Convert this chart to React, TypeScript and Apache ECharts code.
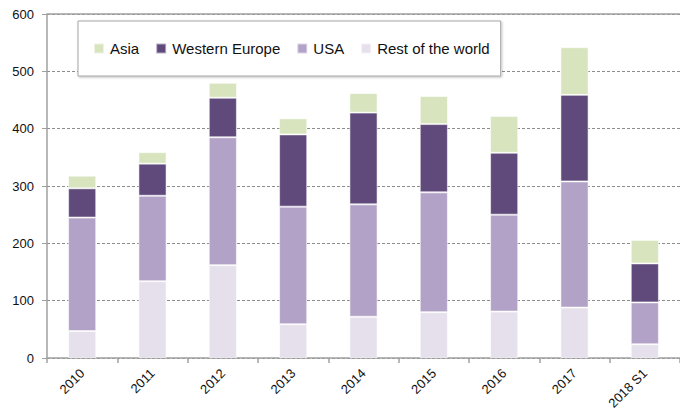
import React, { useEffect, useRef } from "react";
import * as echarts from "echarts";

const categories = ["2010", "2011", "2012", "2013", "2014", "2015", "2016", "2017", "2018 S1"];
const restOfWorld = [47, 134, 162, 59, 72, 80, 81, 88, 24];
const usa = [198, 149, 223, 205, 196, 209, 169, 220, 73];
const westernEurope = [51, 56, 69, 126, 160, 119, 108, 151, 68];
const asia = [22, 20, 26, 28, 34, 49, 64, 83, 41];
const yTicks = { min: 0, max: 600, interval: 100 };

const FONT = "'Liberation Sans', Arial, sans-serif";

export default function App() {
  const ref = useRef<HTMLDivElement>(null);
  useEffect(() => {
    if (!ref.current) return;
    const chart = echarts.init(ref.current, undefined, { renderer: "svg" });
    const bar = (name: string, data: number[], color: string, extra: any = {}) => ({
      name,
      type: "bar",
      stack: "total",
      data,
      barWidth: "40%",
      itemStyle: { color, borderColor: "rgba(255,255,255,0.55)", borderWidth: 1 },
      emphasis: { disabled: true },
      ...extra,
    });
    chart.setOption({
      animation: false,
      textStyle: { fontFamily: FONT },
      grid: { left: 47, right: -11, top: 14, bottom: 53, containLabel: false },
      legend: {
        data: ["Asia", "Western Europe", "USA", "Rest of the world"],
        left: 78,
        top: 21,
        orient: "horizontal",
        itemWidth: 10,
        itemHeight: 10,
        itemGap: 16,
        padding: [20, 11, 20, 15],
        backgroundColor: "#fff",
        borderColor: "#a6a6a6",
        borderWidth: 1,
        shadowColor: "rgba(0,0,0,0.25)",
        shadowBlur: 2,
        shadowOffsetX: 1,
        shadowOffsetY: 1,
        icon: "rect",
        textStyle: { fontSize: 15, color: "#111", fontFamily: FONT, padding: [0, 0, 0, 1] },
        selectedMode: false,
      },
      xAxis: {
        type: "category",
        data: categories,
        boundaryGap: true,
        axisLine: { lineStyle: { color: "#a0a0a0", width: 1.5 } },
        axisTick: { show: true, length: 5, alignWithLabel: false, lineStyle: { color: "#a0a0a0", width: 1.5 } },
        axisLabel: { rotate: 45, fontSize: 13, color: "#111", margin: 13, interval: 0, fontFamily: FONT },
        splitLine: { show: false },
      },
      yAxis: {
        type: "value",
        min: yTicks.min,
        max: yTicks.max,
        interval: yTicks.interval,
        axisLine: { show: true, lineStyle: { color: "#a0a0a0", width: 1.5 } },
        axisTick: { show: true, length: 5, lineStyle: { color: "#a0a0a0" } },
        axisLabel: { fontSize: 13, color: "#111", margin: 13, fontFamily: FONT },
        splitLine: { show: true, lineStyle: { color: "#8c8c8c", type: [3, 2], width: 1 } },
      },
      series: [
        bar("Rest of the world", restOfWorld, "#e6e0ec"),
        bar("USA", usa, "#b3a2c7"),
        bar("Western Europe", westernEurope, "#604a7b"),
        bar("Asia", asia, "#d7e4bd", {
          markLine: {
            silent: true,
            symbol: "none",
            label: { show: false },
            lineStyle: { color: "#a0a0a0", type: "solid", width: 1.5 },
            data: [{ yAxis: yTicks.max }],
          },
        }),
      ],
    });
    return () => chart.dispose();
  }, []);
  return (
    <div
      ref={ref}
      style={{ position: "fixed", left: 0, top: 0, width: 680, height: 412, background: "#fff" }}
    />
  );
}
